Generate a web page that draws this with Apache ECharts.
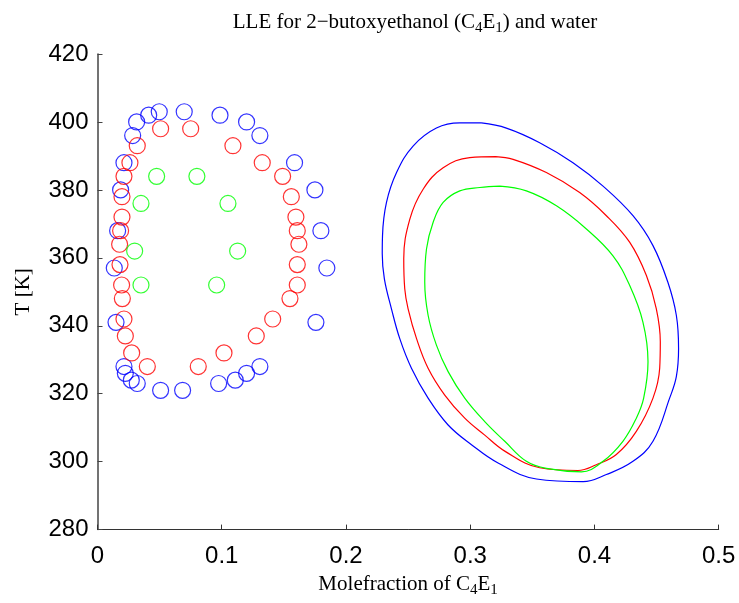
<!DOCTYPE html>
<html>
<head>
<meta charset="utf-8">
<script src="https://cdn.jsdelivr.net/npm/echarts@6/dist/echarts.min.js"></script>
<style>html,body{margin:0;padding:0;background:#fff;}#c{width:739px;height:603px;}</style>
</head>
<body>
<div id="c"></div>
<script>
// Experimental points (molefraction of C4E1, T [K])
var blueCircles = [
  [0.0497,403],[0.0698,403],[0.0412,402],[0.0986,402],[0.0315,400],[0.1200,400],
  [0.0283,396],[0.1307,396],[0.0213,388],[0.1586,388],[0.0186,380],[0.1750,380],
  [0.0162,368],[0.1798,368],[0.0135,357],[0.1846,357],[0.0149,341],[0.1758,341],
  [0.0213,328],[0.1307,328],[0.0224,326],[0.1200,326],[0.0272,324],[0.1109,324],
  [0.0320,323],[0.0975,323],[0.0508,321],[0.0685,321]
];
var redCircles = [
  [0.0508,398],[0.0750,398],[0.0320,393],[0.1090,393],[0.0261,388],[0.1326,388],
  [0.0213,384],[0.1490,384],[0.0197,378],[0.1560,378],[0.0197,372],[0.1597,372],
  [0.0186,368],[0.1608,368],[0.0178,364],[0.1621,364],[0.0181,358],[0.1608,358],
  [0.0194,352],[0.1608,352],[0.0200,348],[0.1549,348],[0.0213,342],[0.1410,342],
  [0.0224,337],[0.1278,337],[0.0275,332],[0.1018,332],[0.0401,328],[0.0811,328]
];
var greenCircles = [
  [0.0476,384],[0.0800,384],[0.0350,376],[0.1050,376],
  [0.0299,362],[0.1128,362],[0.0350,352],[0.0959,352]
];
// Model curves (closed loops)
var blueCurve = [
  [0.3090,399.7],[0.2916,399.7],[0.2728,398.2],[0.2540,392.9],[0.2407,385.1],[0.2326,376.3],
  [0.2294,366.5],[0.2292,361.1],[0.2309,353.8],[0.2366,345.0],[0.2433,336.2],[0.2527,327.5],
  [0.2661,318.7],[0.2822,310.8],[0.3010,305.0],[0.3224,299.6],[0.3533,294.9],[0.3908,294.1],
  [0.4096,296.2],[0.4310,300.1],[0.4471,306.0],[0.4605,318.7],[0.4659,325.0],[0.4677,333.3],
  [0.4659,343.1],[0.4591,352.8],[0.4471,363.6],[0.4310,372.4],[0.4069,381.1],[0.3827,388.0],
  [0.3559,393.9],[0.3291,398.2],[0.3090,399.7]
];
var redCurve = [
  [0.3205,389.8],[0.2996,389.5],[0.2782,386.5],[0.2621,380.2],[0.2514,371.4],[0.2465,359.7],
  [0.2473,350.9],[0.2500,345.0],[0.2568,336.2],[0.2661,327.5],[0.2795,319.6],[0.2956,312.8],
  [0.3117,307.8],[0.3278,303.1],[0.3559,298.2],[0.3867,297.4],[0.4015,299.1],[0.4176,302.1],
  [0.4337,308.9],[0.4471,318.7],[0.4525,327.5],[0.4530,335.3],[0.4498,345.0],[0.4418,354.8],
  [0.4283,364.6],[0.4096,372.4],[0.3881,379.2],[0.3613,385.1],[0.3345,389.0],[0.3205,389.8]
];
var greenCurve = [
  [0.3238,381.1],[0.3077,380.7],[0.2916,379.7],[0.2782,376.3],[0.2701,370.4],[0.2648,362.6],
  [0.2634,352.8],[0.2661,343.1],[0.2728,334.3],[0.2822,326.5],[0.2956,318.7],[0.3117,311.8],
  [0.3278,306.0],[0.3452,300.1],[0.3613,298.0],[0.3895,297.0],[0.4069,300.1],[0.4229,306.0],
  [0.4337,312.8],[0.4396,318.7],[0.4431,329.4],[0.4390,341.1],[0.4283,351.9],[0.4149,360.6],
  [0.3935,368.5],[0.3694,375.3],[0.3452,379.7],[0.3238,381.1]
];
var xTicks = [0, 0.1, 0.2, 0.3, 0.4, 0.5];
var yTicks = [280, 300, 320, 340, 360, 380, 400, 420];

var chart = echarts.init(document.getElementById('c'));
var serif = '"Liberation Serif","Times New Roman",serif';
var sans = '"Liberation Sans",Arial,sans-serif';
var subRich = {
  n: {fontFamily: serif, fontSize: 21, fontWeight: 'normal', color: '#000', lineHeight: 28},
  s: {fontFamily: serif, fontSize: 15, fontWeight: 'normal', color: '#000', lineHeight: 28, verticalAlign: 'bottom'}
};
function circles(data, color) {
  return {type: 'scatter', data: data, symbol: 'circle', symbolSize: 16,
    itemStyle: {color: 'rgba(0,0,0,0)', borderColor: color, borderWidth: 1.2},
    silent: true, z: 2};
}
function curve(data, color) {
  return {type: 'line', data: data, showSymbol: false, smooth: 0.4,
    lineStyle: {color: color, width: 1.2}, silent: true, z: 3};
}
chart.setOption({
  animation: false,
  backgroundColor: '#fff',
  title: {
    text: '{n|LLE for 2\u2212butoxyethanol (C}{s|4}{n|E}{s|1}{n|) and water}',
    left: 410, top: 3, textAlign: 'center',
    textStyle: {fontWeight: 'normal', rich: subRich}
  },
  grid: {left: 97.5, right: 20.3, top: 54, bottom: 71, containLabel: false},
  xAxis: {
    type: 'value', min: xTicks[0], max: xTicks[xTicks.length - 1], interval: 0.1,
    name: '{n|Molefraction of C}{s|4}{n|E}{s|1}', nameLocation: 'middle', nameGap: 36,
    nameTextStyle: {rich: subRich},
    axisLine: {show: true, onZero: false, lineStyle: {color: '#333', width: 1}},
    axisTick: {show: true, inside: true, length: 5, lineStyle: {color: '#333'}},
    axisLabel: {fontFamily: sans, fontSize: 24, color: '#000', margin: 15},
    splitLine: {show: false}
  },
  yAxis: {
    type: 'value', min: yTicks[0], max: yTicks[yTicks.length - 1], interval: 20,
    name: 'T [K]', nameLocation: 'middle', nameGap: 64, nameRotate: 90,
    nameTextStyle: {fontFamily: serif, fontSize: 21, color: '#000'},
    axisLine: {show: true, onZero: false, lineStyle: {color: '#444', width: 1.5}},
    axisTick: {show: true, inside: true, length: 5, lineStyle: {color: '#444'}},
    axisLabel: {fontFamily: sans, fontSize: 24, color: '#000', margin: 9},
    splitLine: {show: false}
  },
  series: [
    circles(blueCircles, '#0000ff'),
    circles(redCircles, '#ff0000'),
    circles(greenCircles, '#00ff00'),
    curve(blueCurve, '#0000ff'),
    curve(redCurve, '#ff0000'),
    curve(greenCurve, '#00ff00')
  ]
});
</script>
</body>
</html>
